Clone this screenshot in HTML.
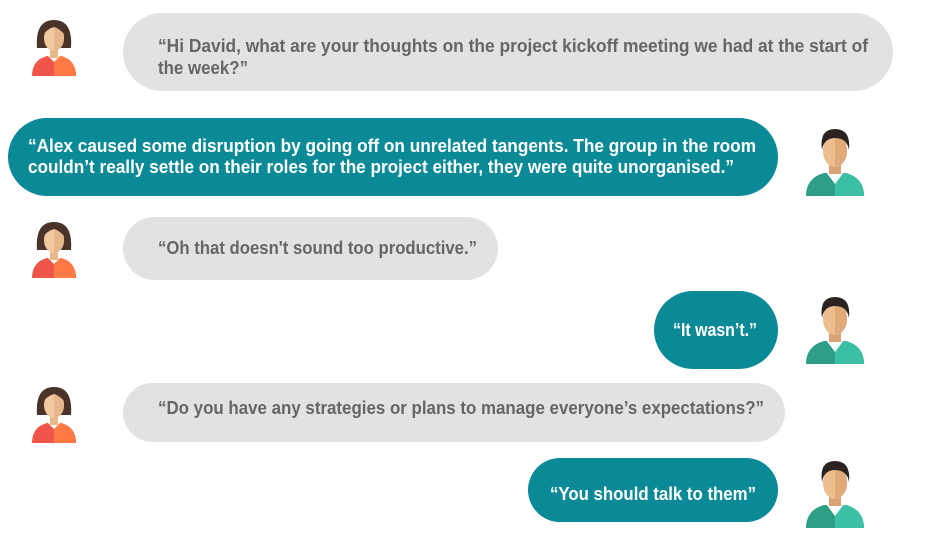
<!DOCTYPE html>
<html><head><meta charset="utf-8"><style>
html,body{margin:0;padding:0;background:#fff;}
svg{display:block;}
text{font-family:"Liberation Sans",sans-serif;font-weight:bold;font-size:18px;}
.g{fill:#666;} .w{fill:#fff;}
</style></head><body>
<svg width="925" height="546" viewBox="0 0 925 546">
<defs>
<g id="female">
  <path d="M8 30 Q6 2 25 2 Q44 2 42 30 Z" fill="#4a3328"/>
  <path d="M3 58 Q3 42 18 38 L32 38 Q47 42 47 58 Z" fill="#f0554a"/>
  <path d="M25 38 L32 38 Q47 42 47 58 L25 58 Z" fill="#ff7a45"/>
  <path d="M18 37 L25 44 L32 37 Z" fill="#fff"/>
  <rect x="21" y="28" width="8" height="12" fill="#e9b98a"/>
  <ellipse cx="25" cy="20" rx="10" ry="13" fill="#f1c9a0"/>
  <path d="M25 7 L25 33 Q35 31 35 20 Q35 7 25 7Z" fill="#e7b78c"/>
  <path d="M13 18 Q14 5 25 5 Q37 5 37 18 Q30 10 25 9 Q18 11 13 18Z" fill="#4a3328"/>
</g>
<g id="male">
  <path d="M2 70 Q2 52 20 47 L42 47 Q60 52 60 70 Z" fill="#2e9e86"/>
  <path d="M31 47 L42 47 Q60 52 60 70 L31 70 Z" fill="#3bbfa5"/>
  <path d="M22 46 L31 58 L40 46 Z" fill="#fff"/>
  <rect x="25" y="36" width="12" height="12" fill="#d9a274"/>
  <ellipse cx="31" cy="25" rx="12" ry="16" fill="#edbd8d"/>
  <path d="M31 9 L31 41 Q43 38 43 25 Q43 9 31 9Z" fill="#dfa97a"/>
  <path d="M18 24 Q15 3 31 3 Q47 3 45 24 Q43 12 31 12 Q20 12 18 24Z" fill="#2b2222"/>
</g>
</defs>

<use href="#female" x="29" y="18"/>
<rect x="123" y="13" width="770" height="78" rx="39" fill="#e2e2e2"/>
<text class="g" x="158" y="52" textLength="710" lengthAdjust="spacingAndGlyphs">“Hi David, what are your thoughts on the project kickoff meeting we had at the start of</text>
<text class="g" x="158" y="74" textLength="90" lengthAdjust="spacingAndGlyphs">the week?”</text>

<rect x="8" y="118" width="770" height="78" rx="39" fill="#0a8a96"/>
<text class="w" x="28" y="152" textLength="728" lengthAdjust="spacingAndGlyphs">“Alex caused some disruption by going off on unrelated tangents. The group in the room</text>
<text class="w" x="28" y="173" textLength="706" lengthAdjust="spacingAndGlyphs">couldn’t really settle on their roles for the project either, they were quite unorganised.”</text>
<use href="#male" x="804" y="126"/>

<use href="#female" x="29" y="220"/>
<rect x="123" y="217" width="375" height="63" rx="31.5" fill="#e2e2e2"/>
<text class="g" x="158" y="254" textLength="319" lengthAdjust="spacingAndGlyphs">“Oh that doesn't sound too productive.”</text>

<rect x="654" y="291" width="124" height="78" rx="39" fill="#0a8a96"/>
<text class="w" x="673" y="336" textLength="84" lengthAdjust="spacingAndGlyphs">“It wasn’t.”</text>
<use href="#male" x="804" y="294"/>

<use href="#female" x="29" y="385"/>
<rect x="123" y="383" width="662" height="59" rx="29.5" fill="#e2e2e2"/>
<text class="g" x="158" y="414" textLength="606" lengthAdjust="spacingAndGlyphs">“Do you have any strategies or plans to manage everyone’s expectations?”</text>

<rect x="528" y="458" width="250" height="64" rx="32" fill="#0a8a96"/>
<text class="w" x="550" y="500" textLength="206" lengthAdjust="spacingAndGlyphs">“You should talk to them”</text>
<use href="#male" x="804" y="458"/>
</svg>
</body></html>
